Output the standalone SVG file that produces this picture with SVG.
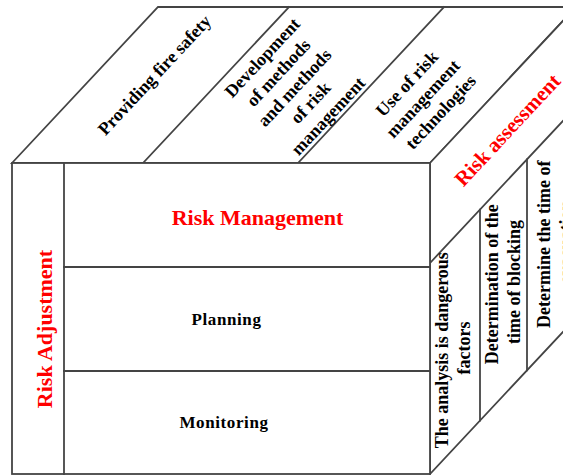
<svg xmlns="http://www.w3.org/2000/svg" width="563" height="475" viewBox="0 0 563 475">
<style>
.ln{stroke:#444;stroke-width:1.8;fill:none;stroke-linecap:square}
.face{fill:#fff;stroke:#444;stroke-width:1.8}
text{font-family:"Liberation Serif","Times New Roman",serif;font-weight:bold;text-anchor:middle}
.t18{font-size:18px;fill:#000}
.t17{font-size:17px;fill:#000;letter-spacing:0.6px}
.red{font-size:22px;fill:#ff0000}
</style>
<rect width="563" height="475" fill="#fff"/>
<g id="connectors">
  <!-- top face -->
  <polygon class="face" points="12,163 158,7 576,7 430,163"/>
  <line class="ln" x1="143" y1="163" x2="289" y2="7"/>
  <line class="ln" x1="298" y1="163" x2="444" y2="7"/>
  <!-- right face -->
  <polygon class="face" points="430,163 576,7 576,318 430,474"/>
  <line class="ln" x1="430" y1="263" x2="576" y2="107"/>
  <line class="ln" x1="480" y1="209.6" x2="480" y2="420.6"/>
  <line class="ln" x1="527" y1="159.4" x2="527" y2="370.4"/>
  <!-- front face -->
  <rect class="face" x="12" y="163" width="418" height="311"/>
  <line class="ln" x1="64" y1="163" x2="64" y2="474"/>
  <line class="ln" x1="64" y1="267" x2="430" y2="267"/>
  <line class="ln" x1="64" y1="371" x2="430" y2="371"/>
</g>
<g id="top-fire-safety">
  <text class="t18" transform="translate(154.5,75) rotate(-47)" x="0" y="6">Providing fire safety</text>
</g>
<g id="top-development">
  <text class="t18" transform="translate(296,86) rotate(-47)">
    <tspan x="0" y="-38">Development</tspan>
    <tspan x="0" y="-16">of methods</tspan>
    <tspan x="0" y="6">and methods</tspan>
    <tspan x="0" y="28">of risk</tspan>
    <tspan x="0" y="50">management</tspan>
  </text>
</g>
<g id="top-technologies">
  <text class="t18" transform="translate(424.5,97) rotate(-47)">
    <tspan x="0" y="-16">Use of risk</tspan>
    <tspan x="0" y="6">management</tspan>
    <tspan x="0" y="28">technologies</tspan>
  </text>
</g>
<g id="risk-assessment">
  <text class="red" style="font-size:21px" transform="translate(507.5,130) rotate(-47)" x="0" y="7">Risk assessment</text>
</g>
<g id="analysis">
  <text class="t18" transform="translate(448,348) rotate(-90)">
    <tspan x="0" y="0">The analysis is dangerous</tspan>
    <tspan x="0" y="22">factors</tspan>
  </text>
</g>
<g id="blocking">
  <text class="t18" transform="translate(498,282) rotate(-90)">
    <tspan x="0" y="0">Determination of the</tspan>
    <tspan x="0" y="22">time of blocking</tspan>
  </text>
</g>
<g id="evacuation">
  <text class="t18" transform="translate(550,242) rotate(-90)">
    <tspan x="0" y="0">Determine the time of</tspan>
    <tspan x="0" y="22">evacuation</tspan>
  </text>
</g>
<g id="risk-adjustment">
  <text class="red" transform="translate(52,329) rotate(-90)" x="0" y="0">Risk Adjustment</text>
</g>
<g id="risk-management">
  <text class="red" x="257.5" y="225">Risk Management</text>
</g>
<g id="planning">
  <text class="t17" x="226.5" y="325">Planning</text>
</g>
<g id="monitoring">
  <text class="t17" x="224" y="428">Monitoring</text>
</g>
</svg>
